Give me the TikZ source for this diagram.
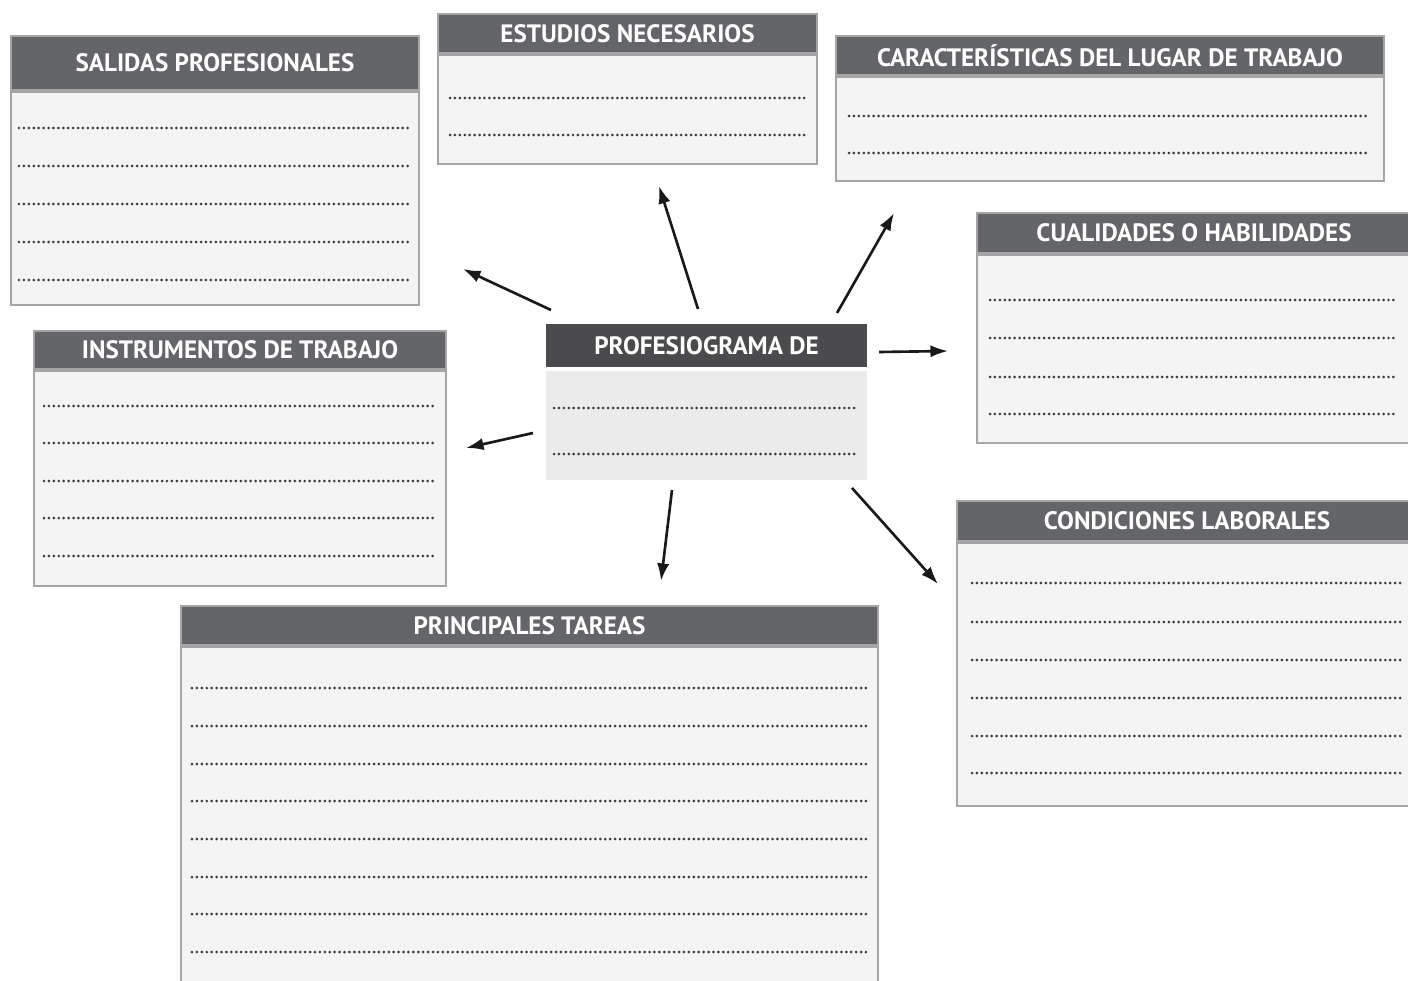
\documentclass[tikz,border=0pt]{standalone}
\usepackage{fontspec}
\setmainfont{PT Sans}
\usepackage{tikz}
\usetikzlibrary{arrows.meta}
\usetikzlibrary{positioning}
\definecolor{headgray}{HTML}{646568}
\definecolor{centerhead}{HTML}{4B4B4D}
\definecolor{boxline}{HTML}{A5A5A5}
\definecolor{bodygray}{HTML}{F4F4F4}
\definecolor{centerbody}{HTML}{EBEBEB}
\definecolor{dotgray}{HTML}{3C3C3C}
\tikzset{
  head/.style={draw=boxline, line width=1.2pt, fill=headgray, text=white, inner sep=0pt,
    anchor=north west, font=\bfseries\fontsize{14.3}{16}\selectfont},
  body/.style={draw=boxline, line width=1.2pt, fill=bodygray, inner sep=0pt},
  dots/.style={draw=dotgray, line width=1.7pt, line cap=round, dash pattern=on 0pt off 2.8pt},
  arr/.style={-{Latex[length=10pt,width=7pt]}, line width=1.5pt, draw=black!90}
}

\begin{document}
\begin{tikzpicture}[x=0.02cm, y=-0.02cm]
  \useasboundingbox (0,0) rectangle (1408,980);
  \clip (0,0) rectangle (1408,980);

  % ---------- Center ----------
  \node[head, draw=none, fill=centerhead, minimum width=6.42cm, minimum height=0.86cm] at (545,323) (prof) {PROFESIOGRAMA DE};
  \node[body, draw=none, fill=centerbody, minimum width=6.42cm, minimum height=2.18cm, below=0.04cm of prof] (prof-body) {};
  \foreach \y in {408,454} \draw[dots] (554,\y) -- (859,\y);

  % ---------- Top row ----------
  \node[head, minimum width=8.16cm, minimum height=1.08cm] at (10,35) (salidas) {SALIDAS PROFESIONALES};
  \node[body, minimum width=8.16cm, minimum height=4.26cm, below=0pt of salidas] (salidas-body) {};
  \foreach \y in {128,166,204,242,280} \draw[dots] (19,\y) -- (411,\y);

  \node[head, minimum width=7.58cm, minimum height=0.78cm] at (437,13) (estudios) {ESTUDIOS NECESARIOS};
  \node[body, minimum width=7.58cm, minimum height=2.18cm, below=0pt of estudios] (estudios-body) {};
  \foreach \y in {98,135} \draw[dots] (450,\y) -- (806,\y);

  \node[head, minimum width=10.96cm, minimum height=0.78cm] at (835,35) (lugar) {CARACTERÍSTICAS DEL LUGAR DE TRABAJO};
  \node[body, minimum width=10.96cm, minimum height=2.08cm, below=0pt of lugar] (lugar-body) {};
  \foreach \y in {116,153} \draw[dots] (849,\y) -- (1369,\y);

  % ---------- Right side ----------
  \node[head, minimum width=8.68cm, minimum height=0.8cm] at (976,212) (cualidades) {CUALIDADES O HABILIDADES};
  \node[body, minimum width=8.68cm, minimum height=3.76cm, below=0pt of cualidades] (cualidades-body) {};
  \foreach \y in {300,338,377,414} \draw[dots] (990,\y) -- (1397,\y);

  \node[head, minimum width=9.2cm, minimum height=0.8cm] at (956,500) (condiciones) {CONDICIONES LABORALES};
  \node[body, minimum width=9.2cm, minimum height=5.26cm, below=0pt of condiciones] (condiciones-body) {};
  \foreach \y in {583,622,660,698,736,773} \draw[dots] (972,\y) -- (1404,\y);

  % ---------- Left side and bottom ----------
  \node[head, minimum width=8.24cm, minimum height=0.76cm] at (33,330) (instrumentos) {INSTRUMENTOS DE TRABAJO};
  \node[body, minimum width=8.24cm, minimum height=4.3cm, below=0pt of instrumentos] (instrumentos-body) {};
  \foreach \y in {406,443,481,518,556} \draw[dots] (44,\y) -- (436,\y);

  \node[head, minimum width=13.94cm, minimum height=0.78cm] at (180,605) (tareas) {PRINCIPALES TAREAS};
  \node[body, minimum width=13.94cm, minimum height=7.0cm, below=0pt of tareas] (tareas-body) {};
  \foreach \y in {688,726,764,801,839,877,914,952} \draw[dots] (192,\y) -- (866,\y);

  % ---------- Arrows ----------
  \coordinate (s1) at (551,310); \coordinate (e1) at (463,269);
  \coordinate (s2) at (698,309); \coordinate (e2) at (659,186);
  \coordinate (s3) at (837,313); \coordinate (e3) at (894,213);
  \coordinate (s4) at (879,352); \coordinate (e4) at (948,351);
  \coordinate (s5) at (533,433); \coordinate (e5) at (466,448);
  \coordinate (s6) at (672,490); \coordinate (e6) at (661,581);
  \coordinate (s7) at (852,488); \coordinate (e7) at (938,584);
  \foreach \i in {1,...,7} \draw[arr] (s\i) -- (e\i);
\end{tikzpicture}
\end{document}
